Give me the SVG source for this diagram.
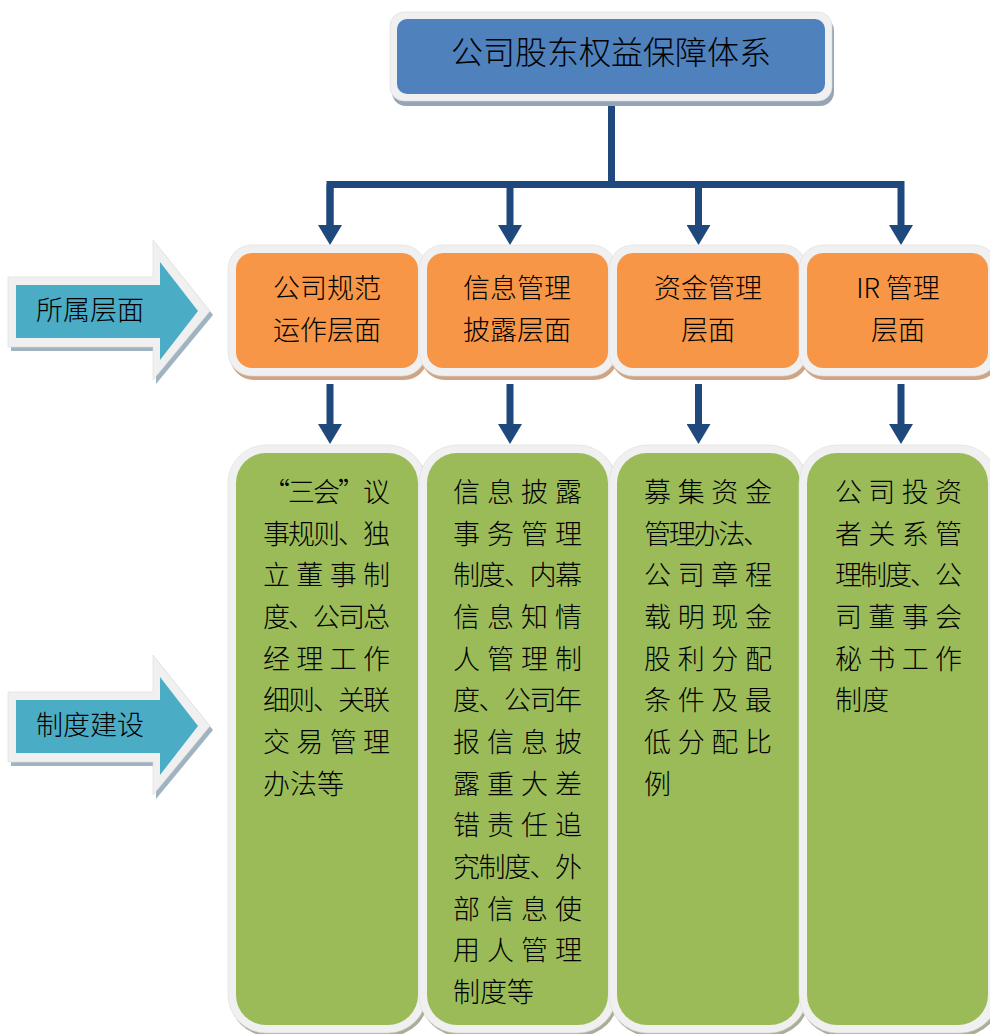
<svg xmlns="http://www.w3.org/2000/svg" width="990" height="1034" viewBox="0 0 990 1034">
<defs>
<style>
.t{font-family:"Noto Sans CJK SC","Noto Sans",sans-serif;fill:#000;font-weight:300;}
.title{font-size:32px;}
.lv{font-size:27px;}
.bd{font-size:27px;}
.rim{fill:#f0f0f0;stroke:#dcdcdc;stroke-width:0.6;}
.conn{fill:none;stroke:#1f497d;stroke-width:7;stroke-linejoin:miter;}
</style>
<marker id="ah" viewBox="0 0 20 24" markerWidth="20" markerHeight="24" refX="0" refY="12" orient="auto" markerUnits="userSpaceOnUse">
<path d="M0,0 L20,12 L0,24 Z" fill="#1f497d"/>
</marker>
</defs>
<rect width="990" height="1034" fill="#ffffff"/>

<g id="connectors">
<path class="conn" d="M611.5,101 V184.5"/>
<path class="conn" d="M330,225 V184.5 H901 V225" marker-end="url(#ah)"/>
<path class="conn" d="M330,184.5 V225" marker-end="url(#ah)"/>
<path class="conn" d="M510,184.5 V225" marker-end="url(#ah)"/>
<path class="conn" d="M698.5,184.5 V225" marker-end="url(#ah)"/>
<path class="conn" d="M330,384 V424" marker-end="url(#ah)"/>
<path class="conn" d="M510,384 V424" marker-end="url(#ah)"/>
<path class="conn" d="M698.5,384 V424" marker-end="url(#ah)"/>
<path class="conn" d="M901,384 V424" marker-end="url(#ah)"/>
</g>

<g id="title">
<rect x="392" y="17" width="442" height="89" rx="14" fill="#95a4b6"/>
<rect class="rim" x="390" y="12" width="442" height="89" rx="14"/>
<rect x="397" y="19" width="428" height="75" rx="10" fill="#4f81bd"/>
<text class="t title" x="611" y="64" text-anchor="middle">公司股东权益保障体系</text>
</g>

<g id="arrow-level">
<polygon points="11,281 156,281 156,244 213,315 156,384 156,351 11,351" fill="#9fb4c0"/>
<polygon class="rim" points="8,277 153,277 153,240 210,311 153,380 153,347 8,347"/>
<polygon points="16,285 160,285 160,262 198,311 160,360 160,338 16,338" fill="#4bacc6"/>
<text class="t lv" x="36" y="320">所属层面</text>
</g>

<g id="arrow-system">
<polygon points="11,696 156,696 156,659 213,730 156,799 156,766 11,766" fill="#9fb4c0"/>
<polygon class="rim" points="8,692 153,692 153,655 210,726 153,795 153,762 8,762"/>
<polygon points="16,700 160,700 160,677 198,726 160,775 160,753 16,753" fill="#4bacc6"/>
<text class="t lv" x="36" y="735">制度建设</text>
</g>

<g id="level1">
<rect x="230" y="249" width="198" height="131" rx="24" fill="#cfa484"/>
<rect class="rim" x="228" y="245" width="198" height="131" rx="24"/>
<rect x="236" y="253" width="182" height="115" rx="16" fill="#f79646"/>
<text class="t lv" x="327" y="298" text-anchor="middle">公司规范</text>
<text class="t lv" x="327" y="340" text-anchor="middle">运作层面</text>
</g>
<g id="level2">
<rect x="421" y="249" width="197" height="131" rx="24" fill="#cfa484"/>
<rect class="rim" x="419" y="245" width="197" height="131" rx="24"/>
<rect x="427" y="253" width="181" height="115" rx="16" fill="#f79646"/>
<text class="t lv" x="517" y="298" text-anchor="middle">信息管理</text>
<text class="t lv" x="517" y="340" text-anchor="middle">披露层面</text>
</g>
<g id="level3">
<rect x="611" y="249" width="198" height="131" rx="24" fill="#cfa484"/>
<rect class="rim" x="609" y="245" width="198" height="131" rx="24"/>
<rect x="617" y="253" width="182" height="115" rx="16" fill="#f79646"/>
<text class="t lv" x="708" y="298" text-anchor="middle">资金管理</text>
<text class="t lv" x="708" y="340" text-anchor="middle">层面</text>
</g>
<g id="level4">
<rect x="801" y="249" width="199" height="131" rx="24" fill="#cfa484"/>
<rect class="rim" x="799" y="245" width="199" height="131" rx="24"/>
<rect x="807" y="253" width="181" height="115" rx="16" fill="#f79646"/>
<text class="t lv" x="898" y="298" text-anchor="middle">IR 管理</text>
<text class="t lv" x="898" y="340" text-anchor="middle">层面</text>
</g>

<g id="system1">
<rect x="230" y="448" width="198" height="588" rx="38" fill="#a9ae99"/>
<rect class="rim" x="228" y="445" width="198" height="588" rx="38"/>
<rect x="236" y="453" width="182" height="572" rx="30" fill="#9bbb59"/>
<g class="t bd">
<text x="263" y="502" textLength="127" lengthAdjust="spacing">“三会”议</text>
<text x="263" y="543.7" textLength="127" lengthAdjust="spacing">事规则、独</text>
<text x="263" y="585.3" textLength="127" lengthAdjust="spacing">立董事制</text>
<text x="263" y="627" textLength="127" lengthAdjust="spacing">度、公司总</text>
<text x="263" y="668.7" textLength="127" lengthAdjust="spacing">经理工作</text>
<text x="263" y="710.3" textLength="127" lengthAdjust="spacing">细则、关联</text>
<text x="263" y="752" textLength="127" lengthAdjust="spacing">交易管理</text>
<text x="263" y="793.7">办法等</text>
</g>
</g>
<g id="system2">
<rect x="421" y="448" width="197" height="588" rx="38" fill="#a9ae99"/>
<rect class="rim" x="419" y="445" width="197" height="588" rx="38"/>
<rect x="427" y="453" width="181" height="572" rx="30" fill="#9bbb59"/>
<g class="t bd">
<text x="453" y="502" textLength="129" lengthAdjust="spacing">信息披露</text>
<text x="453" y="543.7" textLength="129" lengthAdjust="spacing">事务管理</text>
<text x="453" y="585.3" textLength="129" lengthAdjust="spacing">制度、内幕</text>
<text x="453" y="627" textLength="129" lengthAdjust="spacing">信息知情</text>
<text x="453" y="668.7" textLength="129" lengthAdjust="spacing">人管理制</text>
<text x="453" y="710.3" textLength="129" lengthAdjust="spacing">度、公司年</text>
<text x="453" y="752" textLength="129" lengthAdjust="spacing">报信息披</text>
<text x="453" y="793.7" textLength="129" lengthAdjust="spacing">露重大差</text>
<text x="453" y="835.3" textLength="129" lengthAdjust="spacing">错责任追</text>
<text x="453" y="877" textLength="129" lengthAdjust="spacing">究制度、外</text>
<text x="453" y="918.7" textLength="129" lengthAdjust="spacing">部信息使</text>
<text x="453" y="960.3" textLength="129" lengthAdjust="spacing">用人管理</text>
<text x="453" y="1002">制度等</text>
</g>
</g>
<g id="system3">
<rect x="611" y="448" width="198" height="588" rx="38" fill="#a9ae99"/>
<rect class="rim" x="609" y="445" width="198" height="588" rx="38"/>
<rect x="617" y="453" width="183" height="572" rx="30" fill="#9bbb59"/>
<g class="t bd">
<text x="644" y="502" textLength="128" lengthAdjust="spacing">募集资金</text>
<text x="644" y="543.7" textLength="126" lengthAdjust="spacing">管理办法、</text>
<text x="644" y="585.3" textLength="128" lengthAdjust="spacing">公司章程</text>
<text x="644" y="627" textLength="128" lengthAdjust="spacing">载明现金</text>
<text x="644" y="668.7" textLength="128" lengthAdjust="spacing">股利分配</text>
<text x="644" y="710.3" textLength="128" lengthAdjust="spacing">条件及最</text>
<text x="644" y="752" textLength="128" lengthAdjust="spacing">低分配比</text>
<text x="644" y="793.7">例</text>
</g>
</g>
<g id="system4">
<rect x="801" y="448" width="199" height="588" rx="38" fill="#a9ae99"/>
<rect class="rim" x="799" y="445" width="199" height="588" rx="38"/>
<rect x="807" y="453" width="181" height="572" rx="30" fill="#9bbb59"/>
<g class="t bd">
<text x="835" y="502" textLength="127" lengthAdjust="spacing">公司投资</text>
<text x="835" y="543.7" textLength="127" lengthAdjust="spacing">者关系管</text>
<text x="835" y="585.3" textLength="127" lengthAdjust="spacing">理制度、公</text>
<text x="835" y="627" textLength="127" lengthAdjust="spacing">司董事会</text>
<text x="835" y="668.7" textLength="127" lengthAdjust="spacing">秘书工作</text>
<text x="835" y="710.3">制度</text>
</g>
</g>
</svg>
